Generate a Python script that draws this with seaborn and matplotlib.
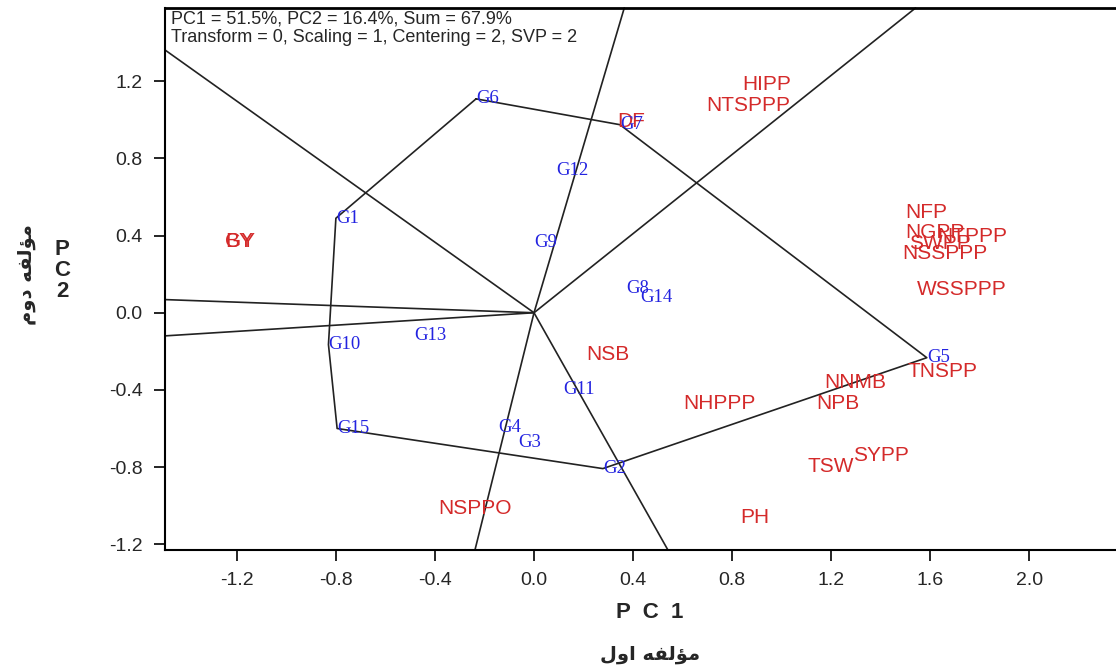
import seaborn as sns
import matplotlib.pyplot as plt
import numpy as np
import pandas as pd

# genotype scores (blue labels)
gen_names = ['G1', 'G2', 'G3', 'G4', 'G5', 'G6', 'G7', 'G8', 'G9', 'G10',
             'G11', 'G12', 'G13', 'G14', 'G15']
gen_pc1 = [-0.80, 0.278, -0.065, -0.145, 1.586, -0.234, 0.347, 0.371, 0.0, -0.83,
           0.117, 0.089, -0.484, 0.428, -0.795]
gen_pc2 = [0.49, -0.808, -0.674, -0.596, -0.233, 1.109, 0.975, 0.124, 0.363, -0.165,
           -0.399, 0.736, -0.119, 0.078, -0.60]

# trait scores (red labels)
trait_names = ['HIPP', 'NTSPPP', 'DF', 'GY', 'BY', 'NFP', 'NGPP', 'NTPPP', 'SWPP',
               'NSSPPP', 'WSSPPP', 'TNSPP', 'NNMB', 'NPB', 'NHPPP', 'NSB', 'SYPP',
               'TSW', 'PH', 'NSPPO']
trait_pc1 = [0.839, 0.694, 0.335, -1.247, -1.245, 1.501, 1.501, 1.63, 1.513,
             1.485, 1.546, 1.509, 1.17, 1.138, 0.601, 0.21, 1.287,
             1.106, 0.831, -0.387]
trait_pc2 = [1.181, 1.073, 0.99, 0.368, 0.368, 0.518, 0.415, 0.394, 0.358,
             0.306, 0.119, -0.306, -0.363, -0.472, -0.472, -0.218, -0.741,
             -0.798, -1.062, -1.016]

# polygon vertices (which-won-where)
hull = ['G6', 'G7', 'G5', 'G2', 'G15', 'G10', 'G1', 'G6']

xticks = [-1.2, -0.8, -0.4, 0.0, 0.4, 0.8, 1.2, 1.6, 2.0]
yticks = [-1.2, -0.8, -0.4, 0.0, 0.4, 0.8, 1.2]

genos = pd.DataFrame({'name': gen_names, 'PC1': gen_pc1, 'PC2': gen_pc2})
traits = pd.DataFrame({'name': trait_names, 'PC1': trait_pc1, 'PC2': trait_pc2})
poly = genos.set_index('name').loc[hull].reset_index()

sns.set_style("ticks")
plt.rcParams['font.family'] = ['Liberation Sans', 'DejaVu Sans']
plt.rcParams['axes.unicode_minus'] = False

fig = plt.figure(figsize=(11.16, 6.7), dpi=100)
ax = fig.add_axes([165 / 1116, 1 - 550 / 670, 1 - 165 / 1116, 542 / 670])
xmin, xmax, ymin, ymax = -1.49, 2.35, -1.23, 1.58
ax.set_xlim(xmin, xmax)
ax.set_ylim(ymin, ymax)

lc = '#222222'
sns.lineplot(data=poly, x='PC1', y='PC2', sort=False, estimator=None,
             color=lc, lw=1.2, ax=ax)

# rays from origin perpendicular to each polygon side
for i in range(len(hull) - 1):
    a = poly.loc[i, ['PC1', 'PC2']].to_numpy(float)
    b = poly.loc[i + 1, ['PC1', 'PC2']].to_numpy(float)
    d = b - a
    foot = a - (a @ d) / (d @ d) * d
    u = foot / np.linalg.norm(foot)
    ts = []
    for k, (lo, hi) in enumerate([(xmin, xmax), (ymin, ymax)]):
        if u[k] > 0:
            ts.append(hi / u[k])
        elif u[k] < 0:
            ts.append(lo / u[k])
    t = min(ts)
    ax.plot([0, u[0] * t], [0, u[1] * t], color=lc, lw=1.2, clip_on=False)

for _, r in traits.iterrows():
    ax.text(r.PC1, r.PC2, r['name'], color='#d42a2a', fontsize=15,
            ha='left', va='center')
for _, r in genos.iterrows():
    ax.text(r.PC1, r.PC2, r['name'], color='#2323e0', fontsize=13.5,
            family='Liberation Serif', ha='left', va='center')

ax.text(0.006, 0.995, 'PC1 = 51.5%, PC2 = 16.4%, Sum = 67.9%\n'
        'Transform = 0, Scaling = 1, Centering = 2, SVP = 2',
        transform=ax.transAxes, ha='left', va='top', fontsize=13,
        linespacing=1.1, zorder=2.2,
        bbox=dict(facecolor='white', edgecolor='none', pad=1.5))

ax.set_xticks(xticks)
ax.set_yticks(yticks)
ax.set_xticklabels([f'{v:.1f}' for v in xticks], fontsize=14)
ax.set_yticklabels([f'{v:.1f}' for v in yticks], fontsize=14)
ax.set_xlabel('')
ax.set_ylabel('')
ax.tick_params(direction='out', length=8, width=1.2, color='black', pad=8)
ax.spines['right'].set_visible(False)
ax.spines['top'].set_linewidth(2)
ax.spines['left'].set_linewidth(1.5)
ax.spines['bottom'].set_linewidth(1.5)
for s in ax.spines.values():
    s.set_color('black')
    s.set_zorder(3)

# axis titles
fig.text(650 / 1116, 1 - 612 / 670, 'P  C  1', ha='center', va='center',
         fontsize=16, fontweight='bold')
fig.text(650 / 1116, 1 - 655 / 670, 'ﻝﻭﺍ ﻪﻔﻟﺆﻣ', ha='center', va='center',
         fontsize=14, fontweight='bold', family='DejaVu Sans')
fig.text(62 / 1116, 1 - 270 / 670, 'P\nC\n2', ha='center', va='center',
         fontsize=16, fontweight='bold', linespacing=1.0)
fig.text(26 / 1116, 1 - 275 / 670, 'ﻡﻭﺩ ﻪﻔﻟﺆﻣ', ha='center', va='center',
         rotation=90, fontsize=14, fontweight='bold', family='DejaVu Sans')

fig.savefig('out.png', dpi=100)
